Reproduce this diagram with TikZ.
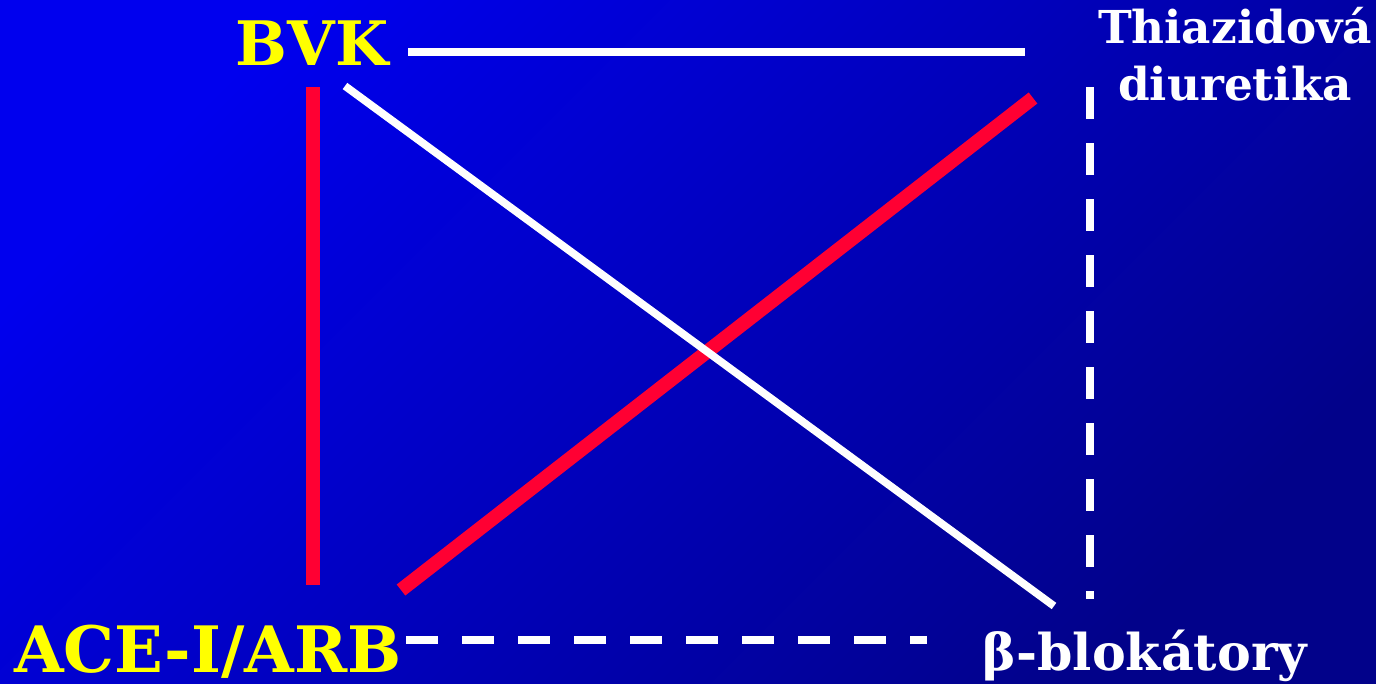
\documentclass[tikz,border=0pt]{standalone}
\usepackage{fontspec}
\newfontfamily\dvserif{DejaVu Serif}
\definecolor{bgA}{RGB}{0,0,238}
\definecolor{bgB}{RGB}{2,2,138}
\definecolor{lblY}{RGB}{255,255,0}
\definecolor{lineR}{RGB}{255,0,51}
\tikzset{
  lbl/.style={inner sep=0pt, anchor=base, font=\dvserif\bfseries},
  biglbl/.style={lbl, text=lblY, font=\dvserif\bfseries\fontsize{46}{50}\selectfont},
  smalllbl/.style={lbl, text=white, font=\dvserif\bfseries\fontsize{34}{40}\selectfont},
  redline/.style={draw=lineR, line width=10.5pt},
  whiteline/.style={draw=white, line width=5.8pt},
  dashline/.style={draw=white, line width=6pt, dash pattern=on 24pt off 18pt}
}
\begin{document}
\begin{tikzpicture}[x=0.75pt,y=-0.75pt]
\useasboundingbox (0,0) rectangle (1376,683);
\shade[top color=bgA, bottom color=bgB, shading angle=45] (0,0) rectangle (1376,683);

\node[biglbl] (bvk) at (312,65) {BVK};
\node[biglbl, font=\dvserif\bfseries\fontsize{48}{52}\selectfont] (ace) at (208,672) {ACE-I/ARB};
\node[smalllbl] (thz) at (1235,43) {Thiazidová};
\node[smalllbl] (thz2) at (1235,100) {diuretika};
\node[smalllbl, font=\dvserif\bfseries\fontsize{38}{44}\selectfont] (beta) at (1145,670) {β-blokátory};

\coordinate (bvkE) at (408,52);
\coordinate (thzW) at (1025,52);
\coordinate (bvkS) at (313,87);
\coordinate (aceN) at (313,585);
\coordinate (bvkSE) at (345,86);
\coordinate (betaNW) at (1054,606);
\coordinate (aceNE) at (401,590);
\coordinate (thzSW) at (1033,98);
\coordinate (thzS) at (1090,87);
\coordinate (betaN) at (1090,599);
\coordinate (aceE) at (406,640);
\coordinate (betaW) at (927,640);

\draw[redline] (bvkS) -- (aceN);
\draw[redline] (aceNE) -- (thzSW);
\draw[whiteline] (bvkE) -- (thzW);
\draw[whiteline] (bvkSE) -- (betaNW);
\draw[dashline] (thzS) -- (betaN);
\draw[dashline] (aceE) -- (betaW);
\end{tikzpicture}
\end{document}
